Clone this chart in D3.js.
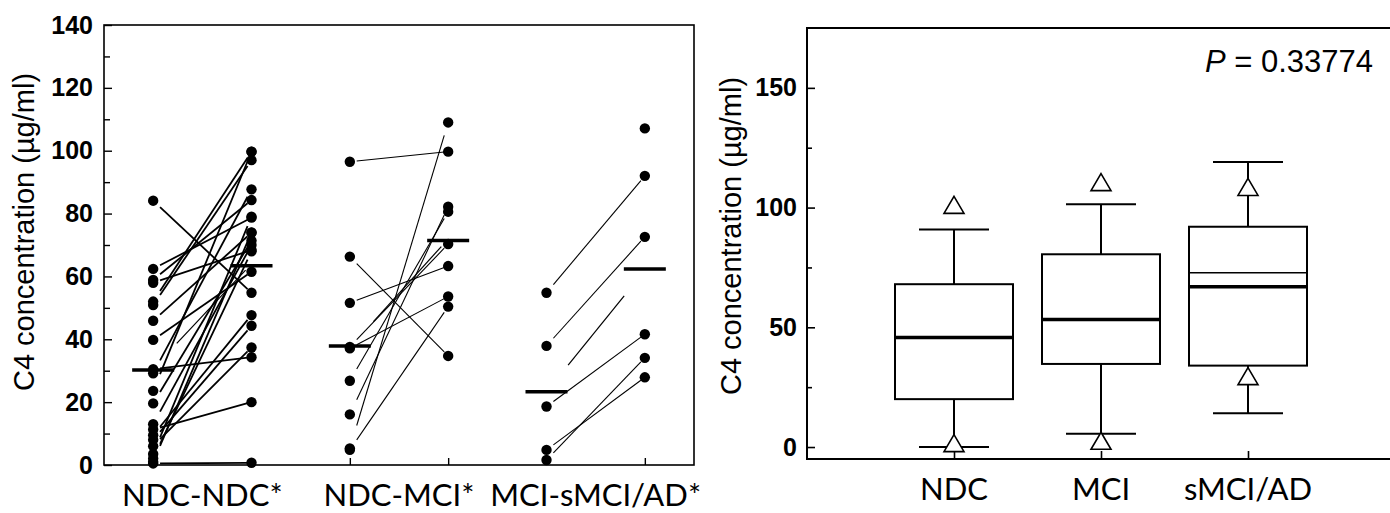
<html>
<head>
<script src="https://d3js.org/d3.v7.min.js"></script>
<style>
  body { margin: 0; background: #fff; }
  .tick text { font-family: "Liberation Sans", Arial, sans-serif; font-weight: bold; font-size: 25px; fill: #000; }
  .ylab { font-family: "Liberation Sans", Arial, sans-serif; font-size: 29px; }
  .xlab { font-family: Lato, "Open Sans", sans-serif; font-size: 31px; }
</style>
</head>
<body>
<svg id="chart" width="1390" height="513"></svg>
<script>
// left panel: paired values, before -> after
const pairGroups = ["NDC-NDC*", "NDC-MCI*", "MCI-sMCI/AD*"];
const ndcNdcBefore = [84.1, 62.4, 58.9, 58.0, 52.0, 50.9, 45.9, 39.8, 30.5, 29.2, 23.6, 19.6, 13.0, 11.3, 9.5, 8.0, 6.0, 3.5, 2.1, 1.0, 0.5];
const ndcNdcAfter  = [54.8, 78.7, 84.3, 68.4, 99.7, 97.0, 73.9, 61.5, 34.3, 87.7, 99.7, 71.4, 70.0, 20.0, 47.7, 44.3, 37.4, 79.0, 68.0, 74.0, 0.7];
const ndcMciBefore = [96.5, 66.3, 51.6, 37.1, 37.6, 26.8, 16.1, 5.3, 4.8];
const ndcMciAfter  = [99.7, 34.7, 63.3, 53.6, 70.3, 80.6, 82.2, 109.0, 50.4];
const mciBefore    = [54.8, 37.9, 18.6, 4.8, 1.6, null];
const mciAfter     = [92.0, 72.6, 41.6, 27.9, 34.1, 107.1];
const groupMeans   = [[30.2, 63.4], [37.9, 71.4], [23.3, 62.4]];
// loose line pieces in the figure: [fromColumn, fromValue, toColumn, toValue]
const strayLines = [[0.24, 38.7, 0.94, 62.0], [2.24, 45.6, 2.93, 69.5], [4.22, 31.8, 4.79, 53.8]];
const leftTicks = [0, 20, 40, 60, 80, 100, 120, 140];

// right panel: box plots
const boxCategories = ["NDC", "MCI", "sMCI/AD"];
const whiskerLow  = [0, 5.5, 14.1];
const boxQ1       = [20, 34.7, 34];
const boxMedian   = [45.7, 53.3, 66.9];
const boxMean     = [null, null, 72.8];
const boxQ3       = [68, 80.5, 92];
const whiskerHigh = [90.8, 101.4, 119];
const outMax      = [100.5, 110, 108];
const outMin      = [1, 2, 29];
const rightTicks = [0, 50, 100, 150];
const pText = "= 0.33774";

const svg = d3.select("#chart");

// ---------- left panel ----------
const x1 = d3.scaleLinear().domain([-0.5, 5.5]).range([104, 694]);
const y1 = d3.scaleLinear().domain([0, 140]).range([465, 25]);

const left = svg.append("g");
left.append("rect").attr("x", 104).attr("y", 25).attr("width", 590).attr("height", 440)
  .attr("fill", "none").attr("stroke", "#000").attr("stroke-width", 1.6);

left.append("g").attr("transform", "translate(104,0)")
  .call(d3.axisLeft(y1).tickValues(d3.range(10, 140, 20)).tickSize(-6).tickFormat(""))
  .call(g => g.select(".domain").remove())
  .selectAll("line").attr("stroke-width", 1.4);
left.append("g").attr("transform", "translate(104,0)")
  .call(d3.axisLeft(y1).tickValues(leftTicks).tickSize(-8).tickPadding(11))
  .call(g => g.select(".domain").remove())
  .selectAll("line").attr("stroke-width", 1.4);
left.append("g").attr("transform", "translate(0,465)")
  .call(d3.axisBottom(x1).tickValues(d3.range(6)).tickSize(-7).tickFormat(""))
  .call(g => g.select(".domain").remove())
  .selectAll("line").attr("stroke-width", 1.4);

const groups = [
  { before: ndcNdcBefore, after: ndcNdcAfter, w: 1.8 },
  { before: ndcMciBefore, after: ndcMciAfter, w: 1.1 },
  { before: mciBefore, after: mciAfter, w: 1.1 }
];

groups.forEach((grp, gi) => {
  const c0 = gi * 2, c1 = gi * 2 + 1;
  const pairs = grp.before.map((b, i) => ({ b: b, a: grp.after[i] })).filter(p => p.b != null && p.a != null);
  left.append("g").selectAll("line").data(pairs).join("line")
    .attr("x1", x1(c0 + 0.07)).attr("x2", x1(c1 - 0.04))
    .attr("y1", d => y1(d.b + (d.a - d.b) * 0.07))
    .attr("y2", d => y1(d.a - (d.a - d.b) * 0.04))
    .attr("stroke", "#000").attr("stroke-width", grp.w);
  left.append("g").selectAll("circle.b").data(grp.before.filter(v => v != null)).join("circle")
    .attr("cx", x1(c0)).attr("cy", d => y1(d)).attr("r", 5.2).attr("fill", "#000");
  left.append("g").selectAll("circle.a").data(grp.after.filter(v => v != null)).join("circle")
    .attr("cx", x1(c1)).attr("cy", d => y1(d)).attr("r", 5.2).attr("fill", "#000");
  left.append("g").selectAll("line").data(groupMeans[gi]).join("line")
    .attr("x1", (d, i) => x1(c0 + i) - 21).attr("x2", (d, i) => x1(c0 + i) + 21)
    .attr("y1", d => y1(d)).attr("y2", d => y1(d))
    .attr("stroke", "#000").attr("stroke-width", 3.5);
});

left.append("g").selectAll("line").data(strayLines).join("line")
  .attr("x1", d => x1(d[0])).attr("y1", d => y1(d[1]))
  .attr("x2", d => x1(d[2])).attr("y2", d => y1(d[3]))
  .attr("stroke", "#000").attr("stroke-width", 1.2);

left.append("g").selectAll("text").data(pairGroups).join("text")
  .attr("class", "xlab").attr("text-anchor", "middle")
  .attr("x", (d, i) => x1(i * 2 + 0.5)).attr("y", 506).text(d => d);

svg.append("text").attr("class", "ylab").attr("text-anchor", "middle")
  .attr("transform", "translate(34,232) rotate(-90)").text("C4 concentration (µg/ml)");

// ---------- right panel ----------
const x2 = d3.scaleLinear().domain([-1, 3]).range([807, 1395]);
const y2 = d3.scaleLinear().domain([-5, 175]).range([459, 28]);

const right = svg.append("g");
right.append("rect").attr("x", 807).attr("y", 28).attr("width", 600).attr("height", 431)
  .attr("fill", "none").attr("stroke", "#000").attr("stroke-width", 2);

right.append("g").attr("transform", "translate(807,0)")
  .call(d3.axisLeft(y2).tickValues([25, 75, 125]).tickSize(-5).tickFormat(""))
  .call(g => g.select(".domain").remove())
  .selectAll("line").attr("stroke-width", 1.6);
right.append("g").attr("transform", "translate(807,0)")
  .call(d3.axisLeft(y2).tickValues(rightTicks).tickSize(-8).tickPadding(10))
  .call(g => g.select(".domain").remove())
  .selectAll("line").attr("stroke-width", 1.6);
right.append("g").attr("transform", "translate(0,459)")
  .call(d3.axisBottom(x2).tickValues(d3.range(3)).tickSize(-8).tickFormat(""))
  .call(g => g.select(".domain").remove())
  .selectAll("line").attr("stroke-width", 1.6);

const boxes = boxCategories.map((c, i) => ({
  c: c, i: i, lo: whiskerLow[i], q1: boxQ1[i], med: boxMedian[i], mean: boxMean[i],
  q3: boxQ3[i], hi: whiskerHigh[i], mx: outMax[i], mn: outMin[i]
}));
const bw = 118, cw = 70;
const bg = right.selectAll("g.box").data(boxes).join("g").attr("class", "box");
bg.append("line").attr("x1", d => x2(d.i)).attr("x2", d => x2(d.i))
  .attr("y1", d => y2(d.lo)).attr("y2", d => y2(d.hi)).attr("stroke", "#000").attr("stroke-width", 2);
bg.append("line").attr("x1", d => x2(d.i) - cw / 2).attr("x2", d => x2(d.i) + cw / 2)
  .attr("y1", d => y2(d.lo)).attr("y2", d => y2(d.lo)).attr("stroke", "#000").attr("stroke-width", 2);
bg.append("line").attr("x1", d => x2(d.i) - cw / 2).attr("x2", d => x2(d.i) + cw / 2)
  .attr("y1", d => y2(d.hi)).attr("y2", d => y2(d.hi)).attr("stroke", "#000").attr("stroke-width", 2);
bg.append("rect").attr("x", d => x2(d.i) - bw / 2).attr("width", bw)
  .attr("y", d => y2(d.q3)).attr("height", d => y2(d.q1) - y2(d.q3))
  .attr("fill", "#fff").attr("stroke", "#000").attr("stroke-width", 2);
bg.append("line").attr("x1", d => x2(d.i) - bw / 2).attr("x2", d => x2(d.i) + bw / 2)
  .attr("y1", d => y2(d.med)).attr("y2", d => y2(d.med)).attr("stroke", "#000").attr("stroke-width", 3.5);
bg.filter(d => d.mean != null).append("line").attr("x1", d => x2(d.i) - bw / 2).attr("x2", d => x2(d.i) + bw / 2)
  .attr("y1", d => y2(d.mean)).attr("y2", d => y2(d.mean)).attr("stroke", "#000").attr("stroke-width", 1.6);

const tri = (cx, cy) => `M${cx},${cy - 10}L${cx + 10},${cy + 7}L${cx - 10},${cy + 7}Z`;
bg.append("path").attr("d", d => tri(x2(d.i), y2(d.mx))).attr("fill", "#fff").attr("stroke", "#000").attr("stroke-width", 1.6);
bg.append("path").attr("d", d => tri(x2(d.i), y2(d.mn))).attr("fill", "#fff").attr("stroke", "#000").attr("stroke-width", 1.6);

right.append("g").selectAll("text").data(boxCategories).join("text")
  .attr("class", "xlab").attr("text-anchor", "middle")
  .attr("x", (d, i) => x2(i)).attr("y", 500).text(d => d);

svg.append("text").attr("class", "ylab").attr("text-anchor", "middle")
  .attr("transform", "translate(741,236) rotate(-90)").text("C4 concentration (µg/ml)");

const pt = svg.append("text").attr("x", 1373).attr("y", 72).attr("text-anchor", "end")
  .attr("font-family", "Liberation Sans, Arial, sans-serif").attr("font-size", 31);
pt.append("tspan").attr("font-style", "italic").text("P");
pt.append("tspan").text(" " + pText);
</script>
</body>
</html>
